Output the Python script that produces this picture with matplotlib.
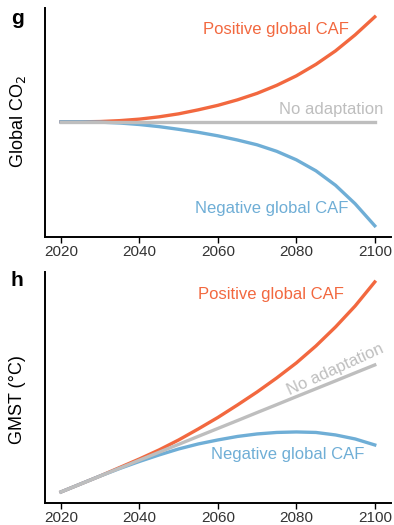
import matplotlib
matplotlib.use("Agg")
import matplotlib.pyplot as plt

plt.rcParams['font.family'] = ['Liberation Sans', 'DejaVu Sans']

# every 5 years
years = [2020, 2025, 2030, 2035, 2040, 2045, 2050, 2055, 2060,
         2065, 2070, 2075, 2080, 2085, 2090, 2095, 2100]

# panel g: global CO2 relative to no adaptation (arbitrary units)
co2_none = [0] * 17
co2_pos = [0, 0, 0.003, 0.012, 0.027, 0.05, 0.08, 0.12, 0.165,
           0.22, 0.285, 0.365, 0.46, 0.575, 0.71, 0.87, 1.05]
co2_neg = [0, 0, -0.003, -0.012, -0.027, -0.048, -0.075, -0.105, -0.14,
           -0.182, -0.23, -0.295, -0.38, -0.49, -0.635, -0.82, -1.04]

# panel h: GMST (arbitrary units)
gmst_none = [0.11, 0.189, 0.269, 0.348, 0.428, 0.507, 0.586, 0.666, 0.745,
             0.824, 0.904, 0.983, 1.063, 1.142, 1.221, 1.301, 1.38]
gmst_pos = [0.11, 0.19, 0.27, 0.355, 0.44, 0.53, 0.63, 0.74, 0.855,
            0.98, 1.11, 1.25, 1.40, 1.57, 1.76, 1.97, 2.21]
gmst_neg = [0.11, 0.19, 0.27, 0.345, 0.415, 0.48, 0.54, 0.59, 0.63,
            0.665, 0.69, 0.705, 0.71, 0.705, 0.68, 0.64, 0.58]

xticks = [2020, 2040, 2060, 2080, 2100]

ORANGE = '#F2683F'
BLUE = '#6FAED6'
GRAY = '#BEBEBE'
LW = 2.4

fig = plt.figure(figsize=(3.94, 5.25), dpi=100)
ax1 = fig.add_axes([0.114, 0.549, 0.878, 0.436])
ax2 = fig.add_axes([0.114, 0.042, 0.878, 0.440])


def style(ax):
    for s in ['top', 'right']:
        ax.spines[s].set_visible(False)
    for s in ['left', 'bottom']:
        ax.spines[s].set_linewidth(1.4)
    ax.set_xlim(2015.9, 2104.1)
    ax.set_xticks(xticks)
    ax.set_yticks([])
    ax.tick_params(axis='x', length=4, width=1.0, labelsize=11,
                   labelcolor='#333333', pad=2)


# panel g
ax1.plot(years, co2_pos, color=ORANGE, lw=LW, zorder=1)
ax1.plot(years, co2_neg, color=BLUE, lw=LW, zorder=1)
ax1.plot(years, co2_none, color=GRAY, lw=LW, zorder=2)
ax1.set_ylim(-1.15, 1.14)
style(ax1)
ax1.text(2074.8, 0.92, 'Positive global CAF', color=ORANGE, fontsize=12,
         ha='center', va='center')
ax1.text(2088.8, 0.12, 'No adaptation', color=GRAY, fontsize=12,
         ha='center', va='center')
ax1.text(2073.8, -0.87, 'Negative global CAF', color=BLUE, fontsize=12,
         ha='center', va='center')

# panel h
ax2.plot(years, gmst_pos, color=ORANGE, lw=LW, zorder=1)
ax2.plot(years, gmst_neg, color=BLUE, lw=LW, zorder=1)
ax2.plot(years, gmst_none, color=GRAY, lw=LW, zorder=2)
ax2.set_ylim(0, 2.31)
style(ax2)
ax2.text(2073.5, 2.08, 'Positive global CAF', color=ORANGE, fontsize=12,
         ha='center', va='center')
ax2.text(2090, 1.33, 'No adaptation', color=GRAY, fontsize=12,
         ha='center', va='center', rotation=24.5)
ax2.text(2077.8, 0.48, 'Negative global CAF', color=BLUE, fontsize=12,
         ha='center', va='center')

# labels
fig.text(18 / 394, 1 - 122 / 525, 'Global CO$_2$', rotation=90, fontsize=13,
         ha='center', va='center')
fig.text(18 / 394, 1 - 400 / 525, 'GMST (°C)', rotation=90, fontsize=13,
         ha='center', va='center')
fig.text(17 / 394, 1 - 18 / 525, 'g', fontsize=15, fontweight='bold',
         ha='center', va='center')
fig.text(17 / 394, 1 - 280 / 525, 'h', fontsize=15, fontweight='bold',
         ha='center', va='center')

fig.savefig('out.png', dpi=100)
